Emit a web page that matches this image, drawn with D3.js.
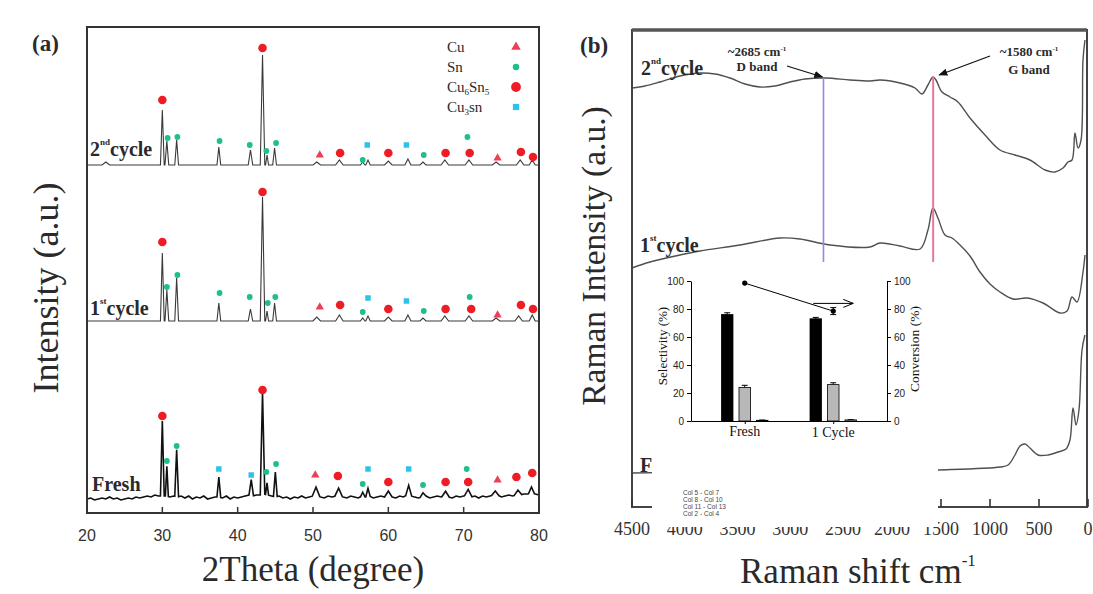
<!DOCTYPE html>
<html>
<head>
<meta charset="utf-8">
<script src="https://cdn.jsdelivr.net/npm/d3@7"></script>
<style>
  body { margin: 0; background: #fff; }
  svg { display: block; }
  .serif { font-family: 'Liberation Serif', 'Times New Roman', serif; }
  .sans { font-family: 'Liberation Sans', Arial, sans-serif; }
</style>
</head>
<body>
<div id="chart"></div>
<script>
// ---------- XRD patterns, panel (a) ----------
const xrdTicks = [20, 30, 40, 50, 60, 70, 80]
// baseline level of each pattern (intensity units = px above the x axis)
const xrdOffsets = {second: 348, first: 192, fresh: 15}
// peaks: [2theta, height, half width]
const peaks2nd = [[22.5, 3, 0.5], [30.0, 55, 0.25], [30.6, 24, 0.25], [31.9, 25, 0.25], [37.5, 18, 0.25],
  [41.7, 15, 0.3], [43.3, 110, 0.3], [43.9, 10, 0.2], [44.9, 17, 0.25], [50.5, 3, 0.5], [53.5, 5, 0.5],
  [56.6, 3, 0.3], [57.3, 5, 0.3], [60.0, 4, 0.5], [62.6, 6, 0.4], [64.6, 3, 0.4], [67.5, 5, 0.5],
  [70.7, 5, 0.5], [74.3, 3, 0.5], [77.5, 5, 0.5], [79.1, 5, 0.4]]
const peaks1st = [[30.0, 68, 0.25], [30.6, 31, 0.25], [31.9, 43, 0.25], [37.5, 18, 0.25], [41.7, 12, 0.3],
  [43.3, 124, 0.3], [43.9, 10, 0.2], [44.9, 18, 0.25], [50.5, 4, 0.5], [53.5, 6, 0.5], [56.6, 3, 0.3],
  [57.3, 5, 0.3], [60.0, 4, 0.5], [62.6, 6, 0.4], [64.6, 3, 0.4], [67.5, 5, 0.5], [70.7, 5, 0.5],
  [74.3, 3, 0.5], [77.3, 5, 0.5], [79.1, 6, 0.4]]
const peaksFresh = [[30.0, 75, 0.25], [30.6, 30, 0.2], [31.9, 47, 0.25], [37.5, 20, 0.25], [41.8, 16, 0.3],
  [43.3, 102, 0.3], [43.9, 12, 0.2], [45.0, 25, 0.25], [50.4, 8, 0.5], [53.4, 7, 0.5], [56.6, 4, 0.3],
  [57.3, 8, 0.3], [60.0, 5, 0.5], [62.7, 10, 0.4], [64.6, 4, 0.4], [67.6, 5, 0.5], [70.6, 6, 0.5],
  [74.2, 4, 0.5], [77.2, 5, 0.5], [79.0, 6, 0.4]]
// fresh sample background, one value every 0.5 deg from 20 to 80
const freshNoise = [-1, 0, -2, -1, 0, -1, 1, -1, 0, -2, -1, 0, -1, 1, 0, 1, 2, 1, 3, 2,
  2, 2, 1, 2, 1, 2, 0, 2, -1, 1, 0, 2, -1, 0, 1, 1, 0, 2, -1, 1,
  0, 1, 2, 3, 2, 3, 3, 4, 3, 2, 1, 2, 0, 1, -1, 1, 0, 2, 0, 1,
  2, 3, 1, 0, 2, 1, 2, 3, 1, 0, 2, 1, 0, 2, 1, 2, 0, 1, 2, 1,
  2, 1, 0, 2, 1, 3, 2, 1, 0, 1, 2, 0, 1, 2, 1, 2, 1, 0, 2, 1,
  2, 3, 1, 2, 0, 2, 1, 2, 3, 3, 1, 2, 3, 2, 3, 3, 4, 4, 5, 4, 3]
// phase marks: [2theta, height above baseline, phase]
const marks2nd = [[30.0, 65, 'Cu6Sn5'], [43.3, 117, 'Cu6Sn5'], [53.6, 12, 'Cu6Sn5'], [60.0, 12, 'Cu6Sn5'],
  [67.6, 12, 'Cu6Sn5'], [70.8, 12, 'Cu6Sn5'], [77.6, 13, 'Cu6Sn5'], [79.2, 8, 'Cu6Sn5'],
  [50.9, 10, 'Cu'], [74.5, 7, 'Cu'],
  [30.7, 27, 'Sn'], [32.0, 28, 'Sn'], [37.6, 24, 'Sn'], [41.6, 20, 'Sn'], [43.8, 14, 'Sn'], [45.1, 22, 'Sn'],
  [56.6, 5, 'Sn'], [64.7, 10, 'Sn'], [70.5, 28, 'Sn'],
  [57.2, 20, 'Cu3Sn'], [62.4, 20, 'Cu3Sn']]
const marks1st = [[30.0, 79, 'Cu6Sn5'], [43.3, 129, 'Cu6Sn5'], [53.6, 16, 'Cu6Sn5'], [60.0, 12, 'Cu6Sn5'],
  [67.6, 12, 'Cu6Sn5'], [71.0, 12, 'Cu6Sn5'], [77.6, 16, 'Cu6Sn5'], [79.2, 12, 'Cu6Sn5'],
  [50.9, 14, 'Cu'], [74.5, 6, 'Cu'],
  [30.6, 34, 'Sn'], [32.0, 46, 'Sn'], [37.6, 28, 'Sn'], [41.6, 24, 'Sn'], [44.0, 18, 'Sn'], [45.0, 24, 'Sn'],
  [56.6, 9, 'Sn'], [64.7, 10, 'Sn'], [70.8, 24, 'Sn'],
  [57.3, 23, 'Cu3Sn'], [62.4, 20, 'Cu3Sn']]
const marksFresh = [[30.0, 82, 'Cu6Sn5'], [43.3, 108, 'Cu6Sn5'], [53.3, 22, 'Cu6Sn5'], [60.0, 16, 'Cu6Sn5'],
  [67.6, 16, 'Cu6Sn5'], [70.6, 16, 'Cu6Sn5'], [77.0, 21, 'Cu6Sn5'], [79.1, 25, 'Cu6Sn5'],
  [50.3, 23, 'Cu'], [74.5, 18, 'Cu'],
  [30.6, 37, 'Sn'], [31.9, 52, 'Sn'], [43.8, 26, 'Sn'], [45.1, 34, 'Sn'], [56.6, 14, 'Sn'], [64.6, 13, 'Sn'],
  [70.4, 29, 'Sn'],
  [37.5, 29, 'Cu3Sn'], [41.8, 23, 'Cu3Sn'], [57.3, 29, 'Cu3Sn'], [62.7, 29, 'Cu3Sn']]
const phases = ['Cu', 'Sn', 'Cu6Sn5', 'Cu3Sn']

// ---------- Raman spectra, panel (b) ----------
const ramanTicks = [4500, 4000, 3500, 3000, 2500, 2000, 1500, 1000, 500, 0]
// [Raman shift cm-1, intensity]
const raman2nd = [[4500, 419], [4377, 421], [4235, 425], [4045, 431], [3855, 434], [3713, 433], [3571, 429],
  [3429, 423], [3287, 420], [3145, 421], [3002, 425], [2860, 428], [2661, 429], [2429, 427], [2224, 426],
  [2122, 427], [1918, 424], [1765, 419], [1694, 413], [1633, 422], [1582, 430], [1551, 427], [1490, 415],
  [1408, 410], [1327, 405], [1204, 389], [1051, 372], [898, 357], [745, 352], [592, 347], [439, 337],
  [337, 335], [255, 339], [204, 345], [163, 347], [133, 374], [102, 359], [71, 367], [51, 447], [31, 467]]
const raman1st = [[4500, 239], [4329, 245], [4045, 252], [3855, 256], [3476, 262], [3097, 269], [2908, 268],
  [2623, 262], [2224, 260], [2122, 264], [1918, 261], [1714, 258], [1633, 277], [1582, 299], [1531, 289],
  [1459, 272], [1388, 269], [1306, 262], [1204, 251], [1102, 235], [1000, 223], [898, 215], [765, 208],
  [622, 209], [459, 204], [286, 194], [214, 196], [163, 210], [112, 205], [51, 235], [31, 252]]
const ramanFresh = [[4500, 34], [3855, 35], [2908, 36], [1918, 36], [1531, 37], [898, 40], [816, 42],
  [745, 52], [694, 61], [643, 63], [592, 59], [510, 52], [408, 52], [306, 55], [224, 58], [184, 67],
  [153, 99], [122, 82], [92, 97], [61, 157], [31, 172]]
const bandShifts = [2685, 1580]

// ---------- inset: selectivity / conversion ----------
const categories = ['Fresh', '1 Cycle']
const selectivity = [[76, 73], [24, 26], [0.5, 0.8]]
const selectivityErr = [[1.3, 1.0], [1.5, 1.3], [0.2, 0.2]]
const conversion = [98.5, 78.5]
const conversionErr = [0, 2.5]
const insetTicks = [0, 20, 40, 60, 80, 100]
const insetLegend = ['Col 5 - Col 7', 'Col 8 - Col 10', 'Col 11 - Col 13', 'Col 2 - Col 4']

const W = 1093, H = 594
const svg = d3.select('#chart').append('svg').attr('width', W).attr('height', H)
const ink = '#2a2a2a'

// ======== panel (a) ========
const a = {left: 87, right: 539, top: 27, bottom: 513}
const xA = d3.scaleLinear().domain([20, 80]).range([a.left, a.right])
const yA = d3.scaleLinear().domain([0, a.bottom - a.top]).range([a.bottom, a.top])
const gA = svg.append('g')

function xrdPath(peaks, offset, noise) {
  const base = t => {
    if (!noise) return 0
    const i = (t - 20) / 0.5
    const i0 = Math.max(0, Math.min(noise.length - 2, Math.floor(i)))
    return noise[i0] + (noise[i0 + 1] - noise[i0]) * (i - i0)
  }
  const inside = t => peaks.some(p => t > p[0] - p[2] && t < p[0] + p[2])
  const grid = noise ? noise.map((v, i) => 20 + i * 0.5) : [20, 80]
  const pts = grid.filter(t => !inside(t)).map(t => [t, base(t)])
  peaks.forEach(([t, h, w]) => {
    pts.push([t - w, base(t - w)], [t, base(t) + h], [t + w, base(t + w)])
  })
  pts.sort((p, q) => p[0] - q[0])
  return d3.line().x(d => xA(d[0])).y(d => yA(d[1] + offset))(pts)
}

gA.append('path').attr('d', xrdPath(peaks2nd, xrdOffsets.second))
  .attr('fill', 'none').attr('stroke', '#3a3a3a').attr('stroke-width', 1.1)
gA.append('path').attr('d', xrdPath(peaks1st, xrdOffsets.first))
  .attr('fill', 'none').attr('stroke', '#3a3a3a').attr('stroke-width', 1.1)
gA.append('path').attr('d', xrdPath(peaksFresh, xrdOffsets.fresh, freshNoise))
  .attr('fill', 'none').attr('stroke', '#111').attr('stroke-width', 1.6)

const phaseStyle = {
  Cu: {type: d3.symbolTriangle, size: 30, color: '#ee3e55'},
  Sn: {type: d3.symbolCircle, size: 26, color: '#1fbf88'},
  Cu6Sn5: {type: d3.symbolCircle, size: 58, color: '#ee1c25'},
  Cu3Sn: {type: d3.symbolSquare, size: 30, color: '#2dc3e8'}
}
function drawMarks(marks, offset) {
  gA.selectAll(null).data(marks).enter().append('path')
    .attr('d', d => d3.symbol().type(phaseStyle[d[2]].type).size(phaseStyle[d[2]].size)())
    .attr('transform', d => `translate(${xA(d[0])},${yA(d[1] + offset)})`)
    .attr('fill', d => phaseStyle[d[2]].color)
}
drawMarks(marks2nd, xrdOffsets.second)
drawMarks(marks1st, xrdOffsets.first)
drawMarks(marksFresh, xrdOffsets.fresh)

// frame and x axis
gA.append('rect').attr('x', a.left).attr('y', a.top)
  .attr('width', a.right - a.left).attr('height', a.bottom - a.top)
  .attr('fill', 'none').attr('stroke', '#333').attr('stroke-width', 2)
gA.selectAll('.tickA').data(xrdTicks).enter().append('line')
  .attr('x1', d => xA(d)).attr('x2', d => xA(d))
  .attr('y1', a.bottom).attr('y2', a.bottom - 6)
  .attr('stroke', '#333').attr('stroke-width', 1.5)
gA.selectAll('.tickLabelA').data(xrdTicks).enter().append('text')
  .attr('class', 'sans').attr('x', d => xA(d)).attr('y', 541)
  .attr('text-anchor', 'middle').attr('font-size', 16).attr('fill', '#333')
  .text(d => d)

gA.append('text').attr('class', 'serif').attr('x', 313).attr('y', 581)
  .attr('text-anchor', 'middle').attr('font-size', 35).attr('fill', ink)
  .text('2Theta (degree)')
gA.append('text').attr('class', 'serif')
  .attr('transform', 'translate(58,288) rotate(-90)')
  .attr('text-anchor', 'middle').attr('font-size', 36).attr('fill', ink)
  .text('Intensity (a.u.)')
gA.append('text').attr('class', 'serif').attr('x', 32).attr('y', 51)
  .attr('font-size', 23).attr('font-weight', 'bold').attr('fill', ink).text('(a)')

// labels like 2nd cycle with a raised suffix
function cycleLabel(g, x, y, num, sup, rest, size) {
  const t = g.append('text').attr('class', 'serif').attr('x', x).attr('y', y)
    .attr('font-size', size).attr('font-weight', 'bold').attr('fill', ink)
  t.append('tspan').text(num)
  if (sup) {
    t.append('tspan').attr('font-size', size * 0.45).attr('dy', -size * 0.55).text(sup)
    t.append('tspan').attr('dy', size * 0.55).text(rest)
  } else {
    t.append('tspan').text(rest)
  }
}
cycleLabel(gA, 90, 156, '2', 'nd', 'cycle', 20)
cycleLabel(gA, 90, 315, '1', 'st', 'cycle', 20)
cycleLabel(gA, 92, 491, 'Fresh', null, '', 20)

// legend
const legendY = [47, 67, 87, 107]
const legendLabel = [['Cu'], ['Sn'], ['Cu', '6', 'Sn', '5'], ['Cu', '3', 'sn']]
phases.forEach((p, i) => {
  const t = gA.append('text').attr('class', 'serif').attr('x', 447).attr('y', legendY[i] + 5)
    .attr('font-size', 15).attr('fill', ink)
  legendLabel[i].forEach((s, j) => {
    const isSub = j % 2 === 1
    t.append('tspan').attr('font-size', isSub ? 9 : 15)
      .attr('dy', isSub ? 3 : (j > 0 ? -3 : 0)).text(s)
  })
  gA.append('path')
    .attr('d', d3.symbol().type(phaseStyle[p].type).size(phaseStyle[p].size * 1.3)())
    .attr('transform', `translate(516,${legendY[i]})`)
    .attr('fill', phaseStyle[p].color)
})

// ======== panel (b) ========
const b = {left: 632, right: 1087, top: 30, bottom: 507}
const xB = d3.scaleLinear().domain([4500, 2500, 0]).range([632, 843, 1088])
const yB = d3.scaleLinear().domain([0, b.bottom - b.top]).range([b.bottom, b.top])
const gB = svg.append('g')
const ramanLine = d3.line().x(d => xB(d[0])).y(d => yB(d[1])).curve(d3.curveCatmullRom.alpha(0.5))

;[raman2nd, raman1st, ramanFresh].forEach(s => {
  gB.append('path').attr('d', ramanLine(s)).attr('fill', 'none')
    .attr('stroke', '#505050').attr('stroke-width', 1.4)
})

// D and G band markers
gB.append('line').attr('x1', xB(bandShifts[0])).attr('x2', xB(bandShifts[0]))
  .attr('y1', yB(429)).attr('y2', yB(5)).attr('stroke', '#8c8ce6').attr('stroke-width', 1.6)
gB.append('line').attr('x1', xB(bandShifts[1])).attr('x2', xB(bandShifts[1]))
  .attr('y1', yB(431)).attr('y2', yB(5)).attr('stroke', '#e6789a').attr('stroke-width', 2)

svg.append('defs').append('marker').attr('id', 'head')
  .attr('viewBox', '0 0 10 10').attr('refX', 9).attr('refY', 5)
  .attr('markerWidth', 7).attr('markerHeight', 7).attr('orient', 'auto')
  .append('path').attr('d', 'M0,1L10,5L0,9Z').attr('fill', '#111')

function bandNote(x, y1, y2, value, name, from, to) {
  const t = gB.append('text').attr('class', 'serif').attr('x', x).attr('y', y1)
    .attr('text-anchor', 'middle').attr('font-size', 13).attr('font-weight', 'bold').attr('fill', ink)
  t.append('tspan').text(`~${value} cm`)
  t.append('tspan').attr('font-size', 7).attr('dy', -5).text('-1')
  gB.append('text').attr('class', 'serif').attr('x', x).attr('y', y2)
    .attr('text-anchor', 'middle').attr('font-size', 13).attr('font-weight', 'bold').attr('fill', ink)
    .text(name)
  gB.append('line').attr('x1', from[0]).attr('y1', from[1])
    .attr('x2', to[0]).attr('y2', to[1])
    .attr('stroke', '#111').attr('stroke-width', 1.3).attr('marker-end', 'url(#head)')
}
bandNote(757, 56, 71, bandShifts[0], 'D band', [787, 66], [xB(bandShifts[0]) - 1, yB(430)])
bandNote(1029, 56, 74, bandShifts[1], 'G band', [990, 56], [xB(bandShifts[1]) + 6, yB(432)])

cycleLabel(gB, 641, 75, '2', 'nd', 'cycle', 20)
cycleLabel(gB, 640, 252, '1', 'st', 'cycle', 20)
cycleLabel(gB, 640, 472, 'Fresh', null, '', 20)

// frame, thick top edge
gB.append('rect').attr('x', b.left).attr('y', b.top)
  .attr('width', b.right - b.left).attr('height', b.bottom - b.top)
  .attr('fill', 'none').attr('stroke', '#444').attr('stroke-width', 2)
gB.append('line').attr('x1', b.left).attr('x2', b.right).attr('y1', b.top).attr('y2', b.top)
  .attr('stroke', '#555').attr('stroke-width', 3.5)
gB.selectAll('.tickB').data(ramanTicks).enter().append('line')
  .attr('x1', d => xB(d)).attr('x2', d => xB(d))
  .attr('y1', b.bottom).attr('y2', b.bottom - 8)
  .attr('stroke', '#333').attr('stroke-width', 1.6)
gB.selectAll('.tickLabelB').data(ramanTicks).enter().append('text')
  .attr('class', 'serif').attr('x', d => xB(d)).attr('y', 535)
  .attr('text-anchor', 'middle').attr('font-size', 18).attr('fill', '#333')
  .text(d => d)

const xLab = gB.append('text').attr('class', 'serif').attr('x', 740).attr('y', 583)
  .attr('font-size', 35).attr('fill', ink)
xLab.append('tspan').text('Raman shift cm')
xLab.append('tspan').attr('font-size', 17).attr('dy', -17).text('-1')
gB.append('text').attr('class', 'serif')
  .attr('transform', 'translate(605,256) rotate(-90)')
  .attr('text-anchor', 'middle').attr('font-size', 33.5).attr('fill', ink)
  .text('Raman Intensity (a.u.)')
gB.append('text').attr('class', 'serif').attr('x', 580).attr('y', 53)
  .attr('font-size', 23).attr('font-weight', 'bold').attr('fill', ink).text('(b)')

// ======== inset ========
const gI = svg.append('g')
gI.append('rect').attr('x', 652).attr('y', 262).attr('width', 286).attr('height', 265).attr('fill', '#fff')

const xI = d3.scalePoint().domain(categories).range([691, 887]).padding(0.607)
const sub = d3.scaleBand().domain([0, 1, 2]).range([-26.25, 26.25]).paddingInner(0.343).paddingOuter(0.171)
const yI = d3.scaleLinear().domain([0, 100]).range([421, 281])
const barFill = ['#000', '#b8b8b8', '#fff']

selectivity.forEach((series, s) => {
  categories.forEach((c, i) => {
    const x0 = xI(c) + sub(s)
    gI.append('line').attr('x1', x0 + sub.bandwidth() / 2).attr('x2', x0 + sub.bandwidth() / 2)
      .attr('y1', yI(series[i])).attr('y2', yI(series[i] + selectivityErr[s][i]))
      .attr('stroke', '#000').attr('stroke-width', 1)
    gI.append('line').attr('x1', x0 + sub.bandwidth() / 2 - 3).attr('x2', x0 + sub.bandwidth() / 2 + 3)
      .attr('y1', yI(series[i] + selectivityErr[s][i])).attr('y2', yI(series[i] + selectivityErr[s][i]))
      .attr('stroke', '#000').attr('stroke-width', 1)
    gI.append('rect').attr('x', x0).attr('y', yI(series[i]))
      .attr('width', sub.bandwidth()).attr('height', yI(0) - yI(series[i]))
      .attr('fill', barFill[s]).attr('stroke', '#000').attr('stroke-width', 0.8)
  })
})

const axisStyle = g => {
  g.selectAll('text').attr('class', 'sans').attr('font-size', 10).attr('fill', '#222')
  g.selectAll('line, path').attr('stroke', '#000')
}
gI.append('g').attr('transform', 'translate(691,0)')
  .call(d3.axisLeft(yI).tickValues(insetTicks).tickSize(4).tickSizeOuter(0).tickPadding(3))
  .call(axisStyle)
gI.append('g').attr('transform', 'translate(887,0)')
  .call(d3.axisRight(yI).tickValues(insetTicks).tickSize(4).tickSizeOuter(0).tickPadding(3))
  .call(axisStyle)
gI.append('g').attr('transform', 'translate(0,421)')
  .call(d3.axisBottom(xI).tickSize(3).tickSizeOuter(0).tickFormat(''))
  .call(axisStyle)
gI.selectAll('.catLabel').data(categories).enter().append('text')
  .attr('class', 'serif').attr('x', d => xI(d)).attr('y', (d, i) => 436 + i)
  .attr('text-anchor', 'middle').attr('font-size', 14).attr('fill', '#111')
  .text(d => d)

// conversion on the right axis
const convPts = categories.map((c, i) => [xI(c), yI(conversion[i])])
gI.append('path').attr('d', d3.line()(convPts)).attr('stroke', '#000').attr('fill', 'none').attr('stroke-width', 1)
categories.forEach((c, i) => {
  if (conversionErr[i] > 0) {
    const lo = yI(conversion[i] - conversionErr[i]), hi = yI(conversion[i] + conversionErr[i])
    gI.append('line').attr('x1', xI(c)).attr('x2', xI(c)).attr('y1', lo).attr('y2', hi).attr('stroke', '#000')
    ;[lo, hi].forEach(y => gI.append('line').attr('x1', xI(c) - 3).attr('x2', xI(c) + 3)
      .attr('y1', y).attr('y2', y).attr('stroke', '#000'))
  }
  gI.append('circle').attr('cx', xI(c)).attr('cy', yI(conversion[i])).attr('r', 2.6).attr('fill', '#000')
})
// arrow pointing to the conversion axis
const arrowY = yI(84)
const ax = xI('1 Cycle')
gI.append('path')
  .attr('d', `M${ax - 20},${arrowY}H${ax + 20}M${ax + 10},${arrowY - 4}L${ax + 20},${arrowY}L${ax + 10},${arrowY + 4}`)
  .attr('stroke', '#000').attr('fill', 'none').attr('stroke-width', 1)

gI.append('text').attr('class', 'serif').attr('transform', 'translate(667,346) rotate(-90)')
  .attr('text-anchor', 'middle').attr('font-size', 13).attr('fill', '#111').text('Selectivity (%)')
gI.append('text').attr('class', 'serif').attr('transform', 'translate(919,349) rotate(-90)')
  .attr('text-anchor', 'middle').attr('font-size', 13.5).attr('fill', '#111').text('Conversion (%)')

gI.selectAll('.legendI').data(insetLegend).enter().append('text')
  .attr('class', 'sans').attr('x', 683).attr('y', (d, i) => 495 + i * 7)
  .attr('font-size', 6.5).attr('fill', '#444').text(d => d)
</script>
</body>
</html>
